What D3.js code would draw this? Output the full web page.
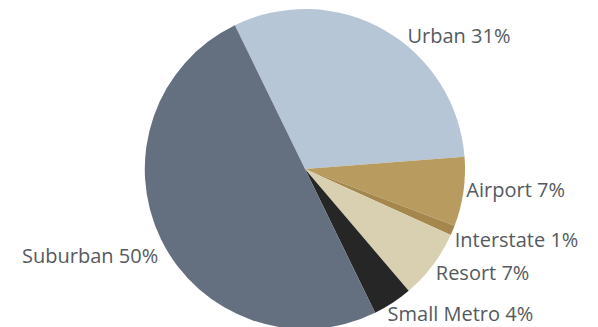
<!DOCTYPE html>
<html>
<head>
<meta charset="utf-8">
<script src="https://cdn.jsdelivr.net/npm/d3@7"></script>
<style>
  html, body { margin: 0; padding: 0; background: #fff; }
  svg text { font-family: "Open Sans", "Noto Sans", sans-serif; }
</style>
</head>
<body>
<svg id="chart" width="598" height="327"></svg>
<script>
// Share of properties by location type
const categories = ["Urban", "Airport", "Interstate", "Resort", "Small Metro", "Suburban"];
const shares = [31, 7, 1, 7, 4, 50];
const sliceColors = ["#b7c6d6", "#b79b5f", "#a5874d", "#d9d0b2", "#262626", "#647080"];

// Label placement: offset from the point where each slice's mid-angle meets the rim
const labelOffsets = [[23, 6], [3, -2], [2, 10], [3, 8], [-5, 11], [-3, 17]];
const labelAnchors = ["start", "start", "start", "start", "start", "end"];

const width = 598, height = 327;
const cx = 305, cy = 169, radius = 160;

const svg = d3.select("#chart");
const g = svg.append("g").attr("transform", `translate(${cx},${cy})`);

const startDeg = -26;
const pie = d3.pie()
  .sort(null)
  .value(d => d.value)
  .startAngle(startDeg * Math.PI / 180)
  .endAngle((startDeg + 360) * Math.PI / 180);

const data = categories.map((c, i) => ({ name: c, value: shares[i], color: sliceColors[i], i }));
const arcs = pie(data);

const arc = d3.arc().innerRadius(0).outerRadius(radius);

g.selectAll("path.slice")
  .data(arcs)
  .join("path")
  .attr("class", "slice")
  .attr("d", arc)
  .attr("fill", d => d.data.color)
  .attr("stroke", "none");

const fmt = d3.format(".0f");
const total = d3.sum(shares);

g.selectAll("text.label")
  .data(arcs)
  .join("text")
  .attr("class", "label")
  .attr("x", d => {
    const a = (d.startAngle + d.endAngle) / 2;
    return radius * Math.sin(a) + labelOffsets[d.data.i][0];
  })
  .attr("y", d => {
    const a = (d.startAngle + d.endAngle) / 2;
    return -radius * Math.cos(a) + labelOffsets[d.data.i][1];
  })
  .attr("dy", "0.35em")
  .attr("text-anchor", d => labelAnchors[d.data.i])
  .attr("fill", "#555a60")
  .style("font-size", "20px")
  .text(d => `${d.data.name} ${fmt(d.data.value / total * 100)}%`);
</script>
</body>
</html>
